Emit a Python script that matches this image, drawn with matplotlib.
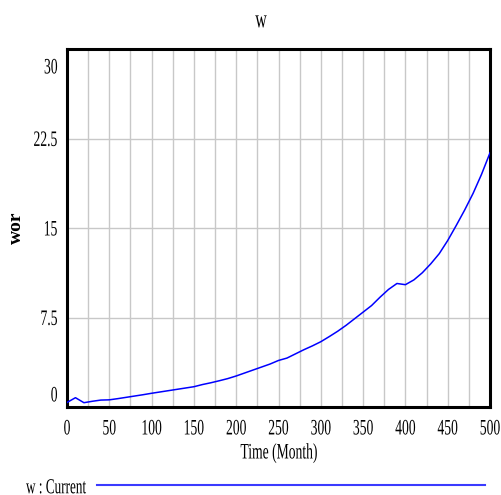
import matplotlib
matplotlib.use("Agg")
import matplotlib.pyplot as plt
from matplotlib.lines import Line2D
from matplotlib.patheffects import AbstractPathEffect
from matplotlib.transforms import Affine2D

# Simulation output of w (values every 10 months)
months = [0, 10, 20, 30, 40, 50, 60, 70, 80, 90,
          100, 110, 120, 130, 140, 150, 160, 170, 180, 190,
          200, 210, 220, 230, 240, 250, 260, 270, 280, 290,
          300, 310, 320, 330, 340, 350, 360, 370, 380, 390,
          400, 410, 420, 430, 440, 450, 460, 470, 480, 490, 500]
w_current = [0.38, 0.78, 0.36, 0.48, 0.58, 0.60, 0.70, 0.81, 0.92, 1.03,
             1.15, 1.26, 1.37, 1.48, 1.59, 1.70, 1.88, 2.03, 2.20, 2.38,
             2.60, 2.85, 3.10, 3.35, 3.60, 3.90, 4.10, 4.45, 4.80, 5.12,
             5.47, 5.90, 6.35, 6.85, 7.40, 7.95, 8.50, 9.20, 9.85, 10.35,
             10.25, 10.65, 11.25, 12.00, 12.85, 13.95, 15.20, 16.50, 17.90, 19.50, 21.30]

x_ticks = [0, 50, 100, 150, 200, 250, 300, 350, 400, 450, 500]
x_grid = list(range(0, 501, 25))
y_ticks = [0, 7.5, 15, 22.5, 30]
y_tick_labels = ["0", "7.5", "15", "22.5", "30"]

title = "w"
y_label = "wor"
x_label = "Time (Month)"
legend_label = "w : Current"

W, H = 501, 495
FONT = "Liberation Serif"
FS = 9.8
SY = 1.62


class TallGlyphs(AbstractPathEffect):
    """Stretch glyphs vertically about mid digit height (narrow, tall type)."""

    def __init__(self, sy, pivot=33.8):
        super().__init__()
        self._t = Affine2D().translate(0, -pivot).scale(1, sy).translate(0, pivot)

    def draw_path(self, renderer, gc, tpath, affine, rgbFace=None):
        renderer.draw_path(gc, tpath, self._t + affine, rgbFace)


tall = [TallGlyphs(SY)]


def fx(x):
    return x / W


def fy(y):
    return 1 - y / H


fig = plt.figure(figsize=(W / 100, H / 100), dpi=100)
ax = fig.add_axes([fx(67), fy(407), (490 - 67) / W, (407 - 49) / H])

ax.set_xlim(0, 500)
ax.set_ylim(0, 30)

# grid
for gx in x_grid:
    ax.axvline(gx, color="#c8c8c8", lw=1.0, zorder=0)
for gy in y_ticks:
    ax.axhline(gy, color="#c8c8c8", lw=1.0, zorder=0)

ax.plot(months, w_current, color="#0000ff", lw=1.1, zorder=3)

ax.set_xticks([])
ax.set_yticks([])
for s in ax.spines.values():
    s.set_linewidth(2.2)
    s.set_color("black")

# x tick labels
for t in x_ticks:
    ax.annotate(f"{t}", xy=(t, 0), xycoords=ax.get_xaxis_transform(),
                xytext=(0, -24.6), textcoords="offset pixels",
                ha="center", va="baseline", fontsize=FS, family=FONT,
                path_effects=tall)

# y tick labels; the end labels are kept inside the frame height
for v, lab in zip(y_ticks, y_tick_labels):
    if v == y_ticks[0]:
        dy = 8.4
    elif v == y_ticks[-1]:
        dy = -21.6
    else:
        dy = -4.6
    ax.annotate(lab, xy=(0, v), xycoords=ax.get_yaxis_transform(),
                xytext=(-9.5, dy), textcoords="offset pixels",
                ha="right", va="baseline", fontsize=FS, family=FONT,
                path_effects=tall)

fig.text(fx(261), fy(23.9), title, ha="center", va="baseline",
         fontsize=11.5, family=FONT, path_effects=tall)
fig.text(fx(16.7), fy(227.5), y_label, ha="center", va="center",
         rotation=90, fontsize=14, family=FONT, fontweight="bold")
fig.text(fx(279), fy(455.6), x_label, ha="center", va="baseline",
         fontsize=FS, family=FONT, path_effects=tall)

# legend row
fig.text(fx(26), fy(490.5), legend_label, ha="left", va="baseline",
         fontsize=9.5, family=FONT, path_effects=tall)
fig.add_artist(Line2D([fx(97), fx(485)], [fy(485), fy(485)],
                      transform=fig.transFigure, color="#3a3aff", lw=1.5))

fig.savefig("out.png", dpi=100)
